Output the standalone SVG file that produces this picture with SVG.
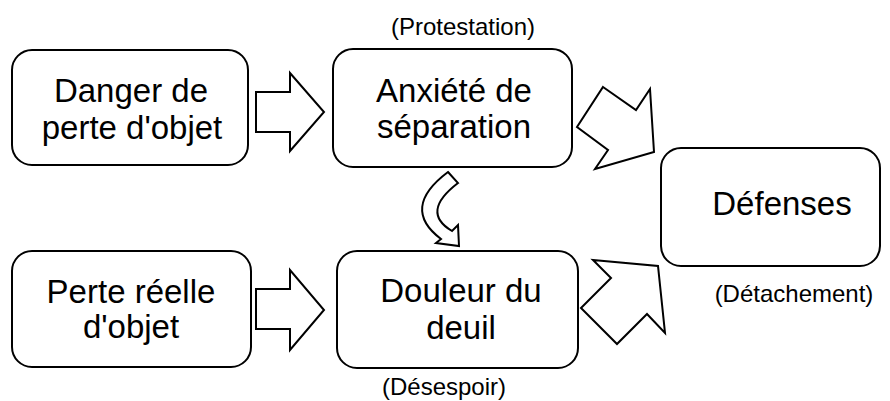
<svg xmlns="http://www.w3.org/2000/svg" width="890" height="401" viewBox="0 0 890 401">
  <style>
    .box { fill: #ffffff; stroke: #000000; stroke-width: 2; }
    .arrow { fill: #ffffff; stroke: #000000; stroke-width: 2; stroke-linejoin: miter; }
    .lbl { font-family: "Liberation Sans", Arial, sans-serif; font-size: 33px; fill: #000000; text-anchor: middle; }
    .note { font-family: "Liberation Sans", Arial, sans-serif; font-size: 24px; fill: #000000; text-anchor: middle; }
  </style>
  <rect width="890" height="401" fill="#ffffff"/>

  <g id="danger">
    <rect class="box" x="12" y="50" width="236" height="115" rx="20" ry="20"/>
    <text class="lbl" x="131" y="102">Danger de</text>
    <text class="lbl" x="132" y="139">perte d'objet</text>
  </g>

  <g id="anxiete">
    <rect class="box" x="333" y="49" width="239" height="118" rx="20" ry="20"/>
    <text class="lbl" x="454" y="102">Anxiété de</text>
    <text class="lbl" x="454" y="138">séparation</text>
    <text class="note" x="463" y="35">(Protestation)</text>
  </g>

  <g id="perte">
    <rect class="box" x="12" y="251" width="239" height="116" rx="20" ry="20"/>
    <text class="lbl" x="131" y="303">Perte réelle</text>
    <text class="lbl" x="131" y="338">d'objet</text>
  </g>

  <g id="douleur">
    <rect class="box" x="337" y="251" width="241" height="117" rx="20" ry="20"/>
    <text class="lbl" x="461" y="302">Douleur du</text>
    <text class="lbl" x="461" y="339">deuil</text>
    <text class="note" x="444" y="395">(Désespoir)</text>
  </g>

  <g id="defenses">
    <rect class="box" x="661" y="148" width="219" height="118" rx="20" ry="20"/>
    <text class="lbl" x="782" y="215">Défenses</text>
    <text class="note" x="794" y="302">(Détachement)</text>
  </g>

  <g id="connectors">
    <!-- block arrows between the left and middle columns -->
    <polygon class="arrow" points="256,92 290,92 290,73 324,112 290,151 290,132 256,132"/>
    <polygon class="arrow" points="256,289 290,289 290,270 324,310 290,350 290,329 256,329"/>
    <!-- diagonal block arrows towards the defences -->
    <polygon class="arrow" points="603,87 636,110 650,89 654,152 595,169 608,150 577,127"/>
    <polygon class="arrow" points="593,260 658,266 665,333 647,314 617,344 581,308 611,278"/>
    <!-- curved arrow from anxiety down to grief -->
    <path class="arrow" d="M448,172 L458,183 Q420,212 452,231 L458,225 L459,246 L436,243 L441,239 Q400,208 448,172 Z"/>
  </g>
</svg>
